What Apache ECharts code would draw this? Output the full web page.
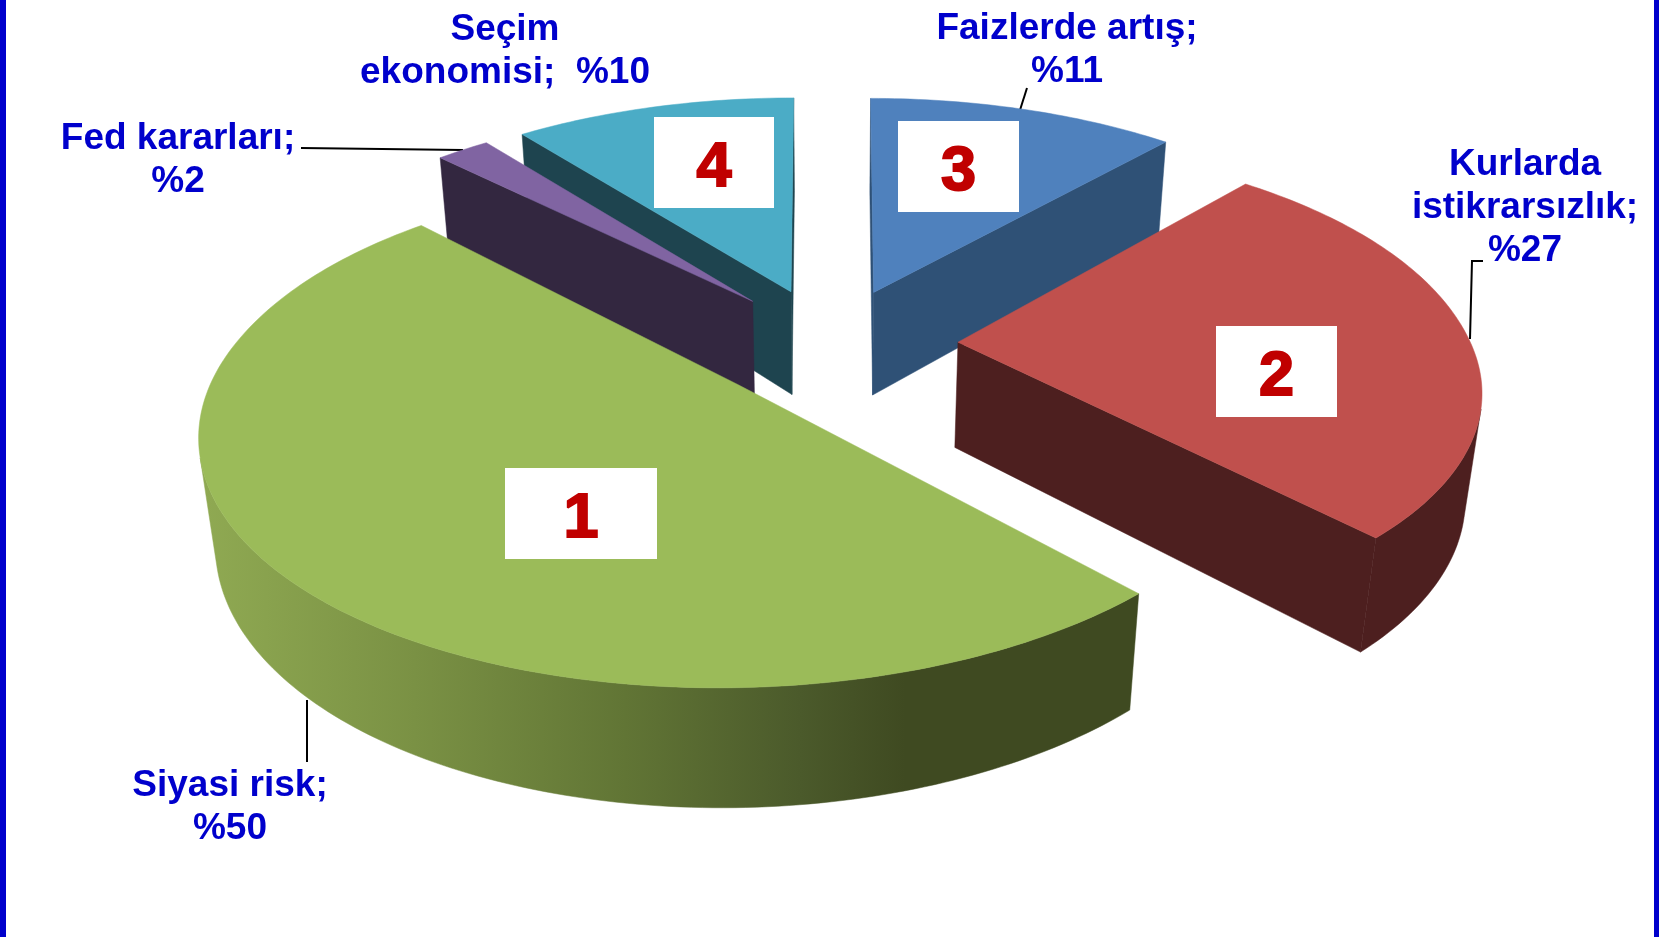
<!DOCTYPE html>
<html>
<head>
<meta charset="utf-8">
<style>
  html, body { margin: 0; padding: 0; background: #fff; }
  #chart { width: 1659px; height: 937px; }
</style>
<script src="https://cdn.jsdelivr.net/npm/echarts@6/dist/echarts.min.js"></script>
</head>
<body>
<div id="chart"></div>
<script>
// values, clockwise from 12 o'clock
const sliceNames = ['Faizlerde artış', 'Kurlarda istikrarsızlık', 'Siyasi risk', 'Fed kararları', 'Seçim ekonomisi'];
const sliceValues = [11, 27, 50, 2, 10];
const sliceRanks = [3, 2, 1, null, 4];
const sliceLabels = ['Faizlerde artış;\n%11', 'Kurlarda\nistikrarsızlık;\n%27', 'Siyasi risk;\n%50', 'Fed kararları;\n%2', 'Seçim\nekonomisi;  %10'];

// styles and layout
const topColors = ['#4f81bd', '#c0504d', '#9bbb59', '#8064a2', '#4bacc6'];
const sideColors = ['#2f5176', '#4d1f1f', '#3f4a21', '#332740', '#1e444f'];
const drawOrder = [4, 3, 0, 1, 2];
const sliceNudge = [0, 0, 0, -2, -4]; // px, sideways
const labelPos = [[1067, 7], [1525, 143], [230, 764], [178, 117], [505, 8]];
const boxRects = [[898, 121, 121, 91], [1216, 326, 121, 91], [505, 468, 152, 91], null, [654, 117, 120, 91]];
const leaderLines = [
  [[1027, 88], [1020, 110]],
  [[1483, 261], [1472, 261], [1470, 339]],
  [[307, 700], [307, 762]],
  [[301, 148], [463, 150]]
];

// projection of the tilted pie
const CX = 832.5, CY = 344, RX = 513, RY = 236, DEPTH = 108;
const PERSP = 0.17, SHRINK = 0.0256, EXPLODE = 0.245;
const FAR_WIDEN = 0.055, FAR_LIFT = 0.08; // the far rim of the original is a bit fuller than a true ellipse
const total = sliceValues.reduce((a, b) => a + b, 0);

function project(X, Y, Z) {
  const f = 1 / (1 - PERSP * Y + SHRINK * Z);
  const wx = Y < 0 ? 1 + FAR_WIDEN * Y * Y : 1;
  const wy = Y < 0 ? 1 + FAR_LIFT * Y * (Y + 1) : 1;
  return [CX + RX * X * f * wx, CY + (RY * Y * wy + DEPTH * Z) * f];
}

function signedArea(pts) {
  let s = 0;
  pts.forEach((p, i) => {
    const q = pts[(i + 1) % pts.length];
    s += p[0] * q[1] - q[0] * p[1];
  });
  return s;
}

function wallFill(idx) {
  if (idx !== 2) return sideColors[idx];
  // only the big slice has a shaded rim
  return {
    type: 'linear', x: 205, y: 0, x2: 905, y2: 0, global: true,
    colorStops: [
      { offset: 0, color: '#8fa952' },
      { offset: 0.3, color: '#7a9144' },
      { offset: 0.6, color: '#617535' },
      { offset: 0.85, color: '#4b5a2b' },
      { offset: 1, color: sideColors[2] }
    ]
  };
}

function renderSlice(params, api) {
  const idx = api.value(0);
  const before = sliceValues.slice(0, idx).reduce((a, b) => a + b, 0);
  const a0 = before / total * Math.PI * 2;
  const a1 = (before + api.value(1)) / total * Math.PI * 2;
  const mid = (a0 + a1) / 2;
  const ox = Math.sin(mid) * EXPLODE, oy = -Math.cos(mid) * EXPLODE;

  const steps = Math.max(2, Math.round((a1 - a0) / Math.PI * 180));
  const rimTop = [], rimBot = [];
  for (let i = 0; i <= steps; i++) {
    const a = a0 + (a1 - a0) * i / steps;
    rimTop.push(project(ox + Math.sin(a), oy - Math.cos(a), 0));
    rimBot.push(project(ox + Math.sin(a), oy - Math.cos(a), 1));
  }
  const apexTop = project(ox, oy, 0), apexBot = project(ox, oy, 1);
  const children = [];
  const fill = wallFill(idx);

  function addPoly(points, color) {
    children.push({
      type: 'polygon',
      shape: { points: points },
      style: { fill: color, stroke: color, lineWidth: 0.5 }
    });
  }

  // back faces are skipped, otherwise they poke out below the top face
  const startWall = [apexTop, rimTop[0], rimBot[0], apexBot];
  const endWall = [rimTop[steps], apexTop, apexBot, rimBot[steps]];
  if (signedArea(startWall) < 0) addPoly(startWall, sideColors[idx]);
  if (signedArea(endWall) < 0) addPoly(endWall, sideColors[idx]);

  let runTop = [], runBot = [];
  for (let i = 0; i < steps; i++) {
    const quad = [rimTop[i], rimTop[i + 1], rimBot[i + 1], rimBot[i]];
    if (signedArea(quad) < 0) {
      if (!runTop.length) { runTop.push(rimTop[i]); runBot.push(rimBot[i]); }
      runTop.push(rimTop[i + 1]);
      runBot.push(rimBot[i + 1]);
    } else if (runTop.length) {
      addPoly(runTop.concat(runBot.slice().reverse()), fill);
      runTop = []; runBot = [];
    }
  }
  if (runTop.length) addPoly(runTop.concat(runBot.slice().reverse()), fill);

  children.push({
    type: 'polygon',
    shape: { points: [apexTop].concat(rimTop) },
    style: { fill: topColors[idx], stroke: topColors[idx], lineWidth: 0.5 }
  });
  return { type: 'group', x: sliceNudge[idx], children: children };
}

const graphics = [
  { type: 'rect', z: 50, shape: { x: 0, y: 0, width: 6, height: 937 }, style: { fill: '#0000cc' } },
  { type: 'rect', z: 50, shape: { x: 1654, y: 0, width: 5, height: 937 }, style: { fill: '#0000cc' } }
];

leaderLines.forEach(pts => {
  graphics.push({
    type: 'polyline', z: 1,
    shape: { points: pts },
    style: { stroke: '#000', lineWidth: 2, fill: null }
  });
});

sliceLabels.forEach((txt, i) => {
  graphics.push({
    type: 'text', z: 60,
    x: labelPos[i][0], y: labelPos[i][1],
    style: {
      text: txt, fill: '#0000cc', align: 'center', verticalAlign: 'top',
      font: 'bold 37px "Liberation Sans", Arial, sans-serif', lineHeight: 43
    }
  });
});

sliceRanks.forEach((rank, i) => {
  if (rank === null) return;
  const b = boxRects[i];
  graphics.push({
    type: 'rect', z: 60,
    shape: { x: b[0], y: b[1], width: b[2], height: b[3] },
    style: { fill: '#fff' }
  });
  graphics.push({
    type: 'text', z: 61,
    x: b[0] + b[2] / 2, y: b[1] + b[3] / 2 + 6,
    style: {
      text: String(rank), fill: '#c00000', stroke: '#c00000', lineWidth: 2,
      align: 'center', verticalAlign: 'middle',
      font: 'bold 63px "Liberation Sans", Arial, sans-serif'
    }
  });
});

const chart = echarts.init(document.getElementById('chart'), null, { renderer: 'canvas' });
chart.setOption({
  backgroundColor: '#fff',
  animation: false,
  graphic: { elements: graphics },
  series: [{
    type: 'custom',
    coordinateSystem: 'none',
    z: 5,
    silent: true,
    renderItem: renderSlice,
    data: drawOrder.map(i => [i, sliceValues[i]])
  }]
});
</script>
</body>
</html>
